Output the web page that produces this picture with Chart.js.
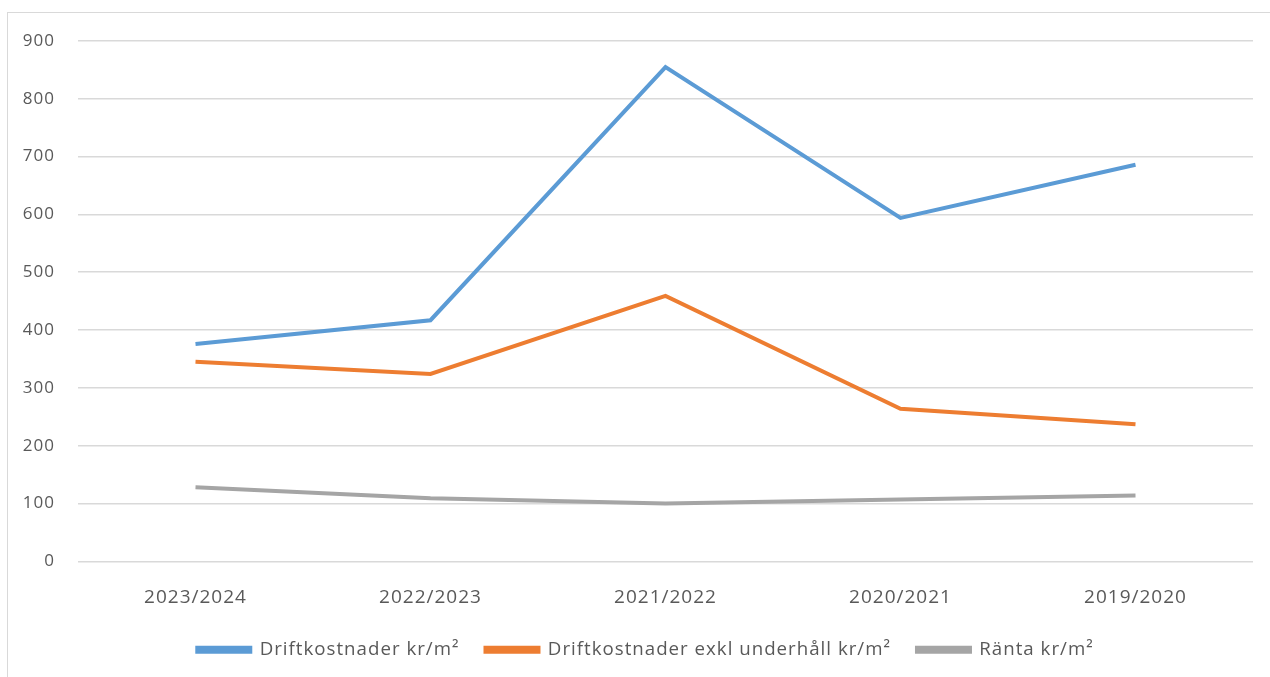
<!DOCTYPE html>
<html>
<head>
<meta charset="utf-8">
<script src="https://cdn.jsdelivr.net/npm/chart.js@4"></script>
<style>
  html, body { margin: 0; padding: 0; background: #fff; }
  #wrap { position: relative; width: 1270px; height: 677px; overflow: hidden; }
  #frame { position: absolute; left: 7px; top: 12px; width: 1300px; height: 700px; border-left: 1px solid #d9d9d9; border-top: 1px solid #d9d9d9; box-sizing: border-box; }
  canvas { position: absolute; left: 0; top: 0; }
</style>
</head>
<body>
<div id="wrap">
  <div id="frame"></div>
  <canvas id="c" width="1270" height="677"></canvas>
</div>
<script>
const categories = ["2023/2024", "2022/2023", "2021/2022", "2020/2021", "2019/2020"];
const driftkostnader = [376, 417, 855, 594, 686];
const driftkostnaderExkl = [345, 324, 459, 264, 237];
const ranta = [128, 109, 100, 107, 114];
const seriesNames = ["Driftkostnader kr/m²", "Driftkostnader exkl underhåll kr/m²", "Ränta kr/m²"];
const yTicks = [0, 100, 200, 300, 400, 500, 600, 700, 800, 900];

const FONT = "'Open Sans', 'Liberation Sans', sans-serif";
const mk = (label, data, color) => ({
  label, data, borderColor: color, backgroundColor: color,
  borderWidth: 4, pointRadius: 0, tension: 0, fill: false,
  borderCapStyle: 'butt', borderJoinStyle: 'miter'
});

const spacing = {
  id: 'spacing',
  beforeInit(chart) { chart.ctx.letterSpacing = '1px'; },
  beforeUpdate(chart) { chart.ctx.letterSpacing = '1px'; },
  afterLayout(chart) {
    if (chart.legend) { chart.legend.left += 19; chart.legend.right += 19; }
  },
  beforeDraw(chart) { chart.ctx.letterSpacing = '1px'; }
};

new Chart(document.getElementById('c'), {
  type: 'line',
  plugins: [spacing],
  data: {
    labels: categories,
    datasets: [
      mk(seriesNames[0], driftkostnader, '#5B9BD5'),
      mk(seriesNames[1], driftkostnaderExkl, '#ED7D31'),
      mk(seriesNames[2], ranta, '#A5A5A5')
    ]
  },
  options: {
    responsive: false,
    animation: false,
    layout: { padding: { left: 0, right: 17, top: 41, bottom: 8 } },
    plugins: {
      tooltip: { enabled: false },
      legend: {
        position: 'bottom',
        labels: {
          boxWidth: 53, boxHeight: 4, padding: 26,
          color: '#595959',
          font: { family: FONT, size: 18.7 }
        }
      }
    },
    scales: {
      x: {
        offset: true,
        grid: { display: false },
        border: { display: false },
        afterFit: (s) => { s.height = 53; },
        ticks: { color: '#595959', font: { family: FONT, size: 19 }, padding: 17, maxRotation: 0 }
      },
      y: {
        min: 0, max: 900,
        afterFit: (s) => { s.width = 78; },
        afterBuildTicks: (s) => { s.ticks = yTicks.map(v => ({ value: v })); },
        grid: { color: '#d9d9d9', lineWidth: 1.5, drawTicks: false },
        border: { display: false },
        ticks: { color: '#595959', font: { family: FONT, size: 17 }, padding: 23 }
      }
    }
  }
});
</script>
</body>
</html>
